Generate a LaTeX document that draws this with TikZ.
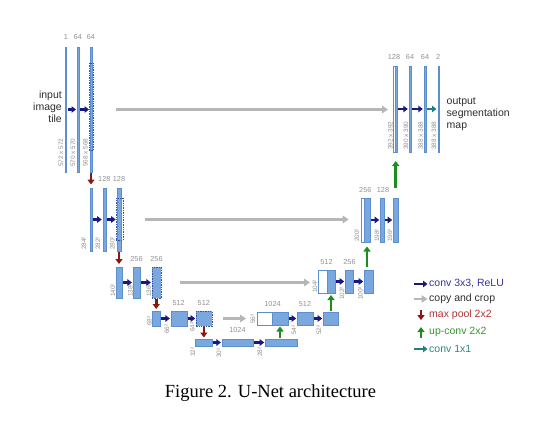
\documentclass[tikz,border=0pt]{standalone}
\usepackage{fontspec}
\setmainfont{Liberation Sans}
\newfontfamily\capfont{Liberation Serif}
\usetikzlibrary{arrows.meta}
\definecolor{barfill}{RGB}{122,168,222}
\definecolor{bardraw}{RGB}{92,142,208}
\definecolor{convc}{RGB}{24,24,130}
\definecolor{copyc}{RGB}{182,182,182}
\definecolor{poolc}{RGB}{140,22,22}
\definecolor{upc}{RGB}{30,140,30}
\definecolor{onec}{RGB}{30,128,128}
\definecolor{labc}{RGB}{145,145,145}
\definecolor{dashc}{RGB}{50,85,165}
\definecolor{txtc}{RGB}{45,45,45}
\tikzset{
  fm/.style={draw=bardraw, fill=barfill, line width=0.4pt, inner sep=0pt, outer sep=0pt, anchor=north west},
  fmw/.style={fill=white},
  fmd/.style={draw=none},
  croprect/.style={draw=dashc, line width=0.5pt, dash pattern=on 1.4pt off 1pt},
  conv/.style={draw=convc, line width=2.2pt, -{Triangle[length=4.5pt,width=6.5pt]}},
  copyarr/.style={draw=copyc, line width=2.6pt, -{Triangle[length=6pt,width=7.5pt]}},
  pool/.style={draw=poolc, line width=2.6pt, -{Triangle[length=5pt,width=7pt]}},
  upconv/.style={draw=upc, line width=2.6pt, -{Triangle[length=5pt,width=7pt]}},
  oneconv/.style={draw=onec, line width=2.2pt, -{Triangle[length=4.5pt,width=6.5pt]}},
  num/.style={text=labc, font=\fontsize{7.3}{7.3}\selectfont, inner sep=0pt, anchor=base},
  dimlab/.style={text=labc, font=\fontsize{6.4}{6.4}\selectfont, inner sep=0pt, rotate=90, anchor=west},
  bigtxt/.style={text=txtc, font=\fontsize{10.5}{12.2}\selectfont, inner sep=0pt},
  legtxt/.style={font=\fontsize{10.5}{12}\selectfont, inner sep=0pt, anchor=west}
}
\newcommand\fmap[6][]{\node[fm,minimum width={(#5-#3)*1pt},minimum height={(#6-#4)*1pt},#1] (#2) at (#3,#4) {};}
\begin{document}
\begin{tikzpicture}[x=1pt,y=-1pt]
\useasboundingbox (0,0) rectangle (560,444);
% ---------- encoder level 1
\fmap{e1a}{65.5}{47}{66.5}{172}
\fmap{e1b}{77}{47}{79}{172}
\fmap{e1c}{90}{47}{92}{172}
\node[croprect, inner sep=0pt, minimum width=4.6pt, minimum height=87pt, anchor=north west] (c1) at (88.7,63) {};
\node[num] (n1a) at (66,40) {1};
\node[num] (n1b) at (78,40) {64};
\node[num] (n1c) at (91,40) {64};
\node[dimlab] (s1a) at (61,167) {572 x 572};
\node[dimlab] (s1b) at (73,167) {570 x 570};
\node[dimlab] (s1c) at (85.5,167) {568 x 568};
\draw[conv, shorten <=1.2pt, shorten >=1pt] (e1a.east) -- (e1b.west);
\draw[conv, shorten <=1.2pt, shorten >=1pt] (e1b.east) -- (e1c.west);
\node[bigtxt, align=right, anchor=east] (intxt) at (62,107) {input\\image\\tile};
% ---------- encoder level 2
\fmap{e2a}{90}{188}{92}{251}
\fmap{e2b}{102.7}{188}{106}{251}
\fmap{e2c}{116.7}{188}{121.3}{251}
\node[croprect, inner sep=0pt, minimum width=7pt, minimum height=42pt, anchor=north west] (c2) at (115.5,198) {};
\node[num] (n2b) at (104.3,181) {128};
\node[num] (n2c) at (119,181) {128};
\node[dimlab] (s2a) at (84,250) {284²};
\node[dimlab] (s2b) at (98,250) {282²};
\node[dimlab] (s2c) at (112.5,250) {280²};
\draw[conv, shorten <=1pt, shorten >=1pt] (e2a.east) -- (e2b.west);
\draw[conv, shorten <=1pt, shorten >=1pt] (e2b.east) -- (e2c.west);
% ---------- encoder level 3
\fmap{e3a}{116}{267}{122}{298}
\fmap{e3b}{132.7}{267}{140}{298}
\fmap[fmd]{e3c}{151.7}{267}{160.7}{298}
\node[croprect, inner sep=0pt, minimum width=9pt, minimum height=31pt, anchor=north west] (c3) at (151.7,267) {};
\node[num] (n3b) at (136.5,261) {256};
\node[num] (n3c) at (156.5,261) {256};
\node[dimlab] (s3a) at (113,297) {140²};
\node[dimlab] (s3b) at (130.5,297) {138²};
\node[dimlab] (s3c) at (149,297) {136²};
\draw[conv, shorten <=0.8pt, shorten >=0.8pt] (e3a.east) -- (e3b.west);
\draw[conv, shorten <=0.8pt, shorten >=0.8pt] (e3b.east) -- (e3c.west);
% ---------- encoder level 4
\fmap{e4a}{151.7}{311}{160}{326}
\fmap{e4b}{170.7}{311}{186.7}{326}
\fmap[fmd]{e4c}{196}{311}{211.7}{326}
\node[croprect, inner sep=0pt, minimum width=15.7pt, minimum height=15pt, anchor=north west] (c4) at (196,311) {};
\node[num] (n4b) at (178.7,305) {512};
\node[num] (n4c) at (203.8,305) {512};
\node[dimlab] (s4a) at (149.5,326) {68²};
\node[dimlab] (s4b) at (167,334) {66²};
\node[dimlab] (s4c) at (192.5,332) {64²};
\draw[conv, shorten <=0.8pt, shorten >=0.8pt] (e4a.east) -- (e4b.west);
\draw[conv, shorten <=0.8pt, shorten >=0.8pt] (e4b.east) -- (e4c.west);
% ---------- bottom level
\fmap{b1}{195}{339}{212.3}{346}
\fmap{b2}{221.7}{339}{253.3}{346}
\fmap{b3}{265}{339}{296.7}{346}
\node[num] (n5b) at (237.5,332) {1024};
\node[dimlab] (s5a) at (193,357) {32²};
\node[dimlab] (s5b) at (219,358) {30²};
\node[dimlab] (s5c) at (260,357) {28²};
\draw[conv, shorten <=0.8pt, shorten >=0.8pt] (b1.east) -- (b2.west);
\draw[conv, shorten <=0.8pt, shorten >=0.8pt] (b2.east) -- (b3.west);
% ---------- decoder level 4
\fmap[fmw]{d4w}{257}{312}{272}{325}
\fmap{d4b}{272}{312}{288}{325}
\fmap{d4c}{297}{312}{313}{325}
\fmap{d4d}{323}{312}{338}{325}
\node[num] (n6a) at (272.5,306) {1024};
\node[num] (n6c) at (305,306) {512};
\node[dimlab] (s6a) at (253,324) {56²};
\node[dimlab] (s6c) at (294,335) {54²};
\node[dimlab] (s6d) at (319,335) {52²};
\draw[conv, shorten <=0.8pt, shorten >=0.8pt] (d4b.east) -- (d4c.west);
\draw[conv, shorten <=0.8pt, shorten >=0.8pt] (d4c.east) -- (d4d.west);
% ---------- decoder level 3
\fmap[fmw]{d3w}{318}{270}{327}{293}
\fmap{d3b}{327}{270}{335}{293}
\fmap{d3c}{345}{270}{353}{293}
\fmap{d3d}{364}{270}{373}{293}
\node[num] (n7a) at (326.5,264) {512};
\node[num] (n7c) at (349.5,264) {256};
\node[dimlab] (s7a) at (315,293) {104²};
\node[dimlab] (s7c) at (342,300) {102²};
\node[dimlab] (s7d) at (360.5,300) {100²};
\draw[conv, shorten <=0.8pt, shorten >=0.8pt] (d3b.east) -- (d3c.west);
\draw[conv, shorten <=0.8pt, shorten >=0.8pt] (d3c.east) -- (d3d.west);
% ---------- decoder level 2
\fmap[fmw]{d2w}{360.7}{198}{364}{242}
\fmap{d2b}{364}{198}{370}{242}
\fmap{d2c}{380}{198}{384}{242}
\fmap{d2d}{393}{198}{398}{242}
\node[num] (n8a) at (365.3,192) {256};
\node[num] (n8c) at (383,192) {128};
\node[dimlab] (s8a) at (357,242) {200²};
\node[dimlab] (s8c) at (377,242) {198²};
\node[dimlab] (s8d) at (390,242) {196²};
\draw[conv, shorten <=0.8pt, shorten >=0.8pt] (d2b.east) -- (d2c.west);
\draw[conv, shorten <=0.8pt, shorten >=0.8pt] (d2c.east) -- (d2d.west);
% ---------- decoder level 1
\fmap[fmw]{d1w}{392.7}{66}{394.7}{152}
\fmap{d1b}{394.7}{66}{396.7}{152}
\fmap{d1c}{409}{66}{411}{152}
\fmap{d1d}{424}{66}{426}{152}
\fmap{d1e}{437.7}{66}{438.7}{152}
\node[num] (n9a) at (394,60) {128};
\node[num] (n9c) at (410,60) {64};
\node[num] (n9d) at (425,60) {64};
\node[num] (n9e) at (438.2,60) {2};
\node[dimlab] (s9a) at (390.5,150) {392 x 392};
\node[dimlab] (s9c) at (406,150) {390 x 390};
\node[dimlab] (s9d) at (420.7,150) {388 x 388};
\node[dimlab] (s9e) at (434,150) {388 x 388};
\draw[conv, shorten <=1.2pt, shorten >=1.2pt] (d1b.east) -- (d1c.west);
\draw[conv, shorten <=1.2pt, shorten >=1.2pt] (d1c.east) -- (d1d.west);
\draw[oneconv, shorten <=1.2pt, shorten >=1.2pt] (d1d.east) -- (d1e.west);
\node[bigtxt, align=left, anchor=west] (outtxt) at (446.5,114) {output\\segmentation\\map};
% ---------- copy and crop
\draw[copyarr, shorten <=24pt, shorten >=4.7pt] (e1c.east) -- (e1c.east -| d1w.west);
\draw[copyarr, shorten <=24pt, shorten >=12pt] (e2c.east) -- (e2c.east -| d2w.west);
\draw[copyarr, shorten <=19pt, shorten >=8pt] (e3c.east) -- (e3c.east -| d3w.west);
\draw[copyarr, shorten <=11pt, shorten >=11pt] (e4c.east) -- (e4c.east -| d4w.west);
% ---------- max pool
\draw[pool, shorten <=1pt, shorten >=3.5pt] (e1c.south) -- (e1c.south |- e2a.north);
\draw[pool, shorten <=1pt, shorten >=3pt] (e2c.south) -- (e2c.south |- e3a.north);
\draw[pool, shorten <=1pt, shorten >=2pt] (e3c.south) -- (e3c.south |- e4a.north);
\draw[pool, shorten <=1pt, shorten >=1.5pt] (e4c.south) -- (e4c.south |- b1.north);
% ---------- up-conv
\draw[upconv, shorten <=1.5pt, shorten >=1.5pt] (d4b.south |- b3.north) -- (d4b.south);
\draw[upconv, shorten <=1pt, shorten >=2pt] (d3b.south |- d4d.north) -- (d3b.south);
\draw[upconv, shorten <=3pt, shorten >=4.5pt] (d2b.south |- d3d.north) -- (d2b.south);
\draw[upconv, shorten <=10pt, shorten >=9pt] (d1b.south |- d2d.north) -- (d1b.south);
% ---------- legend
\coordinate (la1) at (414,284);
\coordinate (la2) at (414,299);
\coordinate (la3) at (421,309.5);
\coordinate (la4) at (421,338);
\coordinate (la5) at (414,349);
\node[legtxt, text={rgb,255:red,50;green,50;blue,165}] (lt1) at (429,284) {conv 3x3, ReLU};
\node[legtxt, text=txtc] (lt2) at (429,299) {copy and crop};
\node[legtxt, text={rgb,255:red,175;green,50;blue,50}] (lt3) at (429,315) {max pool 2x2};
\node[legtxt, text={rgb,255:red,50;green,150;blue,50}] (lt4) at (429,332) {up-conv 2x2};
\node[legtxt, text={rgb,255:red,40;green,135;blue,135}] (lt5) at (429,349) {conv 1x1};
\draw[conv, shorten >=1.5pt] (la1) -- (lt1.west);
\draw[copyarr, line width=2pt, shorten >=1.5pt] (la2) -- (lt2.west);
\draw[pool] (la3) -- (la3 |- lt3.south);
\draw[upconv] (la4) -- (la4 |- lt4.north);
\draw[oneconv, shorten >=1.5pt] (la5) -- (lt5.west);
% ---------- caption
\node[font=\capfont\fontsize{18.5}{20}\selectfont, anchor=base, inner sep=0pt, text=black] (cap) at (270.5,397) {Figure 2. U-Net architecture};
\end{tikzpicture}
\end{document}
